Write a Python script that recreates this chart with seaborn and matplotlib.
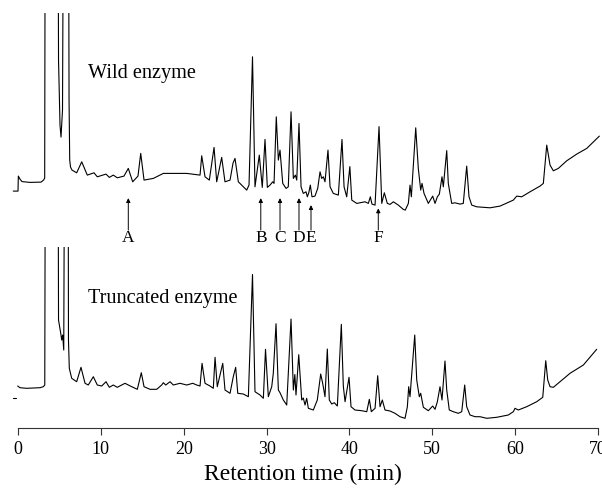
import numpy as np
import pandas as pd
import matplotlib
matplotlib.use("Agg")
import matplotlib.pyplot as plt
import seaborn as sns

# retention time (min) and detector signal (a.u.)
wild_t = [-0.57, 0.0, 0.04, 0.24, 0.48, 1.45, 2.78, 3.08, 3.22, 3.30, 4.80, 4.89, 5.07, 5.19, 5.37,
          5.53, 6.07, 6.16, 6.24, 6.34, 6.52, 7.08, 7.69, 8.36, 9.17, 9.57, 10.62, 11.02, 11.50,
          11.98, 12.79, 13.31, 13.84, 14.48, 14.81, 15.21, 16.33, 17.14, 17.54, 20.36, 21.97,
          22.17, 22.57, 23.09, 23.66, 23.98, 24.58, 24.98, 25.59, 25.95, 26.19, 26.59, 27.60,
          27.88, 28.30, 28.60, 29.12, 29.48, 29.81, 30.09, 30.41, 30.74, 30.90, 31.17, 31.42,
          31.62, 31.95, 32.35, 32.62, 32.95, 33.23, 33.47, 33.64, 33.91, 34.16, 34.43, 34.76,
          34.92, 35.09, 35.28, 35.48, 35.84, 36.17, 36.45, 36.65, 36.85, 37.05, 37.41, 37.66,
          38.05, 38.66, 39.10, 39.35, 39.67, 40.05, 40.28, 40.88, 41.88, 42.28, 42.52, 42.72,
          43.09, 43.57, 43.90, 44.21, 44.57, 44.90, 45.30, 45.90, 46.50, 46.74, 47.11, 47.31,
          47.47, 48.00, 48.31, 48.60, 48.76, 49.00, 49.52, 50.05, 50.33, 50.61, 50.85, 51.17,
          51.33, 51.74, 51.93, 52.34, 52.74, 53.35, 53.74, 54.15, 54.43, 54.76, 55.36, 56.97,
          58.17, 59.78, 60.19, 60.79, 61.79, 63.00, 63.40, 63.81, 64.21, 64.61, 65.21, 66.22,
          67.43, 68.64, 70.16]
wild_s = [0, 0, 15, 12, 9.5, 8.7, 9, 11, 13, 400, 400, 131, 66, 54, 81,
          400, 400, 91, 31, 24, 21, 18.3, 29.3, 16, 18.3, 14.3, 17, 13.7, 16,
          13.3, 15, 22.7, 9.3, 15, 37.7, 11, 12.7, 16, 17.7, 17.7, 16,
          35.3, 14.3, 11, 43.7, 9.3, 33.7, 9.3, 11, 28, 32.7, 9.3, 1,
          6, 134.3, 4.3, 36, 3.7, 51.7, 3.7, 6, 9.3, 7.7, 74.3, 31,
          41, 7.7, 2.7, 4.3, 79.3, 12.7, 16, 11, 67.7, 4.3, -2.3, -0.7,
          -5.7, -1.7, 6, -5.7, -5, 2.7, 19.3, 12.7, 14.3, 9.3, 41, 4.3,
          -2.3, -4, 51.7, 4.3, -5.7, 24.5, -9, -12.3, -10.7, -12.3, -5.7, -13,
          -14, 64.5, -12.3, -1.7, -12.3, -13.3, -10.7, -14, -18.3, -19, -12.3, 6,
          -5.7, 63.3, 22.7, 1, 7.7, -2.3, -12.3, -5, -12.3, -5.7, -3, 14.3,
          4.3, 40.5, 7.7, -12.3, -11.7, -13, -12.3, 25, -5.7, -14, -15.7, -16.7,
          -15, -9, -5, -5.7, -0.7, 5, 7.7, 46, 26, 20.3, 22.7, 30.3,
          37, 42.7, 55]

trunc_t = [-0.04, 0.24, 1.05, 2.66, 3.05, 3.23, 3.33, 4.80, 4.89, 5.19, 5.27, 5.39, 5.52,
           5.67, 6.03, 6.09, 6.19, 6.48, 7.08, 7.60, 8.09, 8.48, 9.09, 9.57, 10.10, 10.62,
           11.02, 11.50, 11.98, 12.91, 13.72, 14.40, 14.88, 15.21, 15.93, 16.74, 17.34, 17.54,
           17.83, 18.35, 18.74, 19.55, 20.36, 21.09, 21.57, 21.97, 22.21, 22.57, 23.17, 23.57,
           23.78, 24.05, 24.71, 24.98, 25.59, 25.98, 26.27, 26.52, 27.19, 27.80, 28.30, 28.60,
           29.21, 29.61, 29.87, 30.21, 30.62, 30.81, 31.14, 31.42, 31.62, 32.02, 32.43, 32.95,
           33.23, 33.41, 33.55, 33.88, 34.24, 34.43, 34.64, 34.84, 35.04, 35.64, 36.12, 36.53,
           36.77, 37.05, 37.33, 37.57, 37.86, 38.17, 38.54, 39.02, 39.26, 39.47, 39.95, 40.19,
           40.67, 41.48, 42.09, 42.40, 42.64, 43.09, 43.41, 43.69, 43.97, 44.29, 44.90, 45.50,
           46.10, 46.71, 46.99, 47.15, 47.31, 47.88, 48.12, 48.43, 48.60, 48.92, 49.52, 50.05,
           50.33, 50.61, 50.93, 51.17, 51.53, 51.74, 52.05, 52.54, 53.14, 53.55, 53.91, 54.15,
           54.55, 55.16, 55.76, 56.57, 57.77, 59.17, 59.78, 59.98, 60.38, 61.39, 62.60, 63.33,
           63.69, 63.93, 64.21, 64.61, 65.41, 66.62, 68.23, 69.84]
trunc_s = [12, 10.3, 9.7, 10.3, 11.3, 13, 400, 400, 78, 63, 58, 63, 48,
           400, 400, 58, 29.7, 19.7, 16.3, 30.7, 14.7, 13, 21.3, 13, 12, 16.3,
           10.7, 13, 10.7, 14.7, 11.3, 8.7, 25.3, 11.3, 8.7, 8.7, 13, 15.3,
           13, 16.3, 13, 14.7, 13, 14.7, 13, 12, 34.7, 14.7, 12, 9.7,
           40.7, 11.3, 34.7, 8, 4.7, 21.3, 30.7, 4.7, 4, 1.3, 123.5, 6.3,
           3, -0.3, 48.7, 1.3, 11.3, 24.7, 74.3, 8, 5.3, -2, -7, 79,
           8, 23.5, 3, 43.3, -2, 0, -7, -0.3, -10.3, -12, -2, 24,
           14.7, 1.3, 49, -2, -6, -4.7, -8, 73.7, 12, -3.7, 20.7, -8.7,
           -12, -12.7, -13.7, -1.3, -13.7, -10.3, 22.3, -8.7, -2, -12, -13, -15.3,
           -18.7, -20.3, -8.7, 11.3, 1.3, 63, 18, 1.3, 4.7, -9.3, -12.7, -8,
           -11.3, -3.7, 11.3, -2, 37, 8, -12, -13.7, -15.3, -13.7, 13, -8.7,
           -17, -18.7, -18.7, -20.3, -19.3, -17, -13.7, -10.3, -12, -8.7, -3.7, 0.7,
           37.3, 18, 11.3, 10.7, 16.3, 24.7, 33, 48.7]

# small injection mark left of the lower trace
mark_t = [-0.6, -0.24]
mark_s = [0, 0]

peak_labels = ["A", "B", "C", "D", "E", "F"]
peak_t = [13.31, 29.3, 31.62, 33.91, 35.36, 43.48]
arrow_tip_s = [-7, -7, -7, -7, -14, -17.3]

wild = pd.DataFrame({"t": wild_t, "s": wild_s})
trunc = pd.DataFrame({"t": trunc_t, "s": trunc_s})

sns.set_theme(style="white")
plt.rcParams["font.family"] = ["Liberation Serif", "DejaVu Serif"]
plt.rcParams["text.color"] = "black"
plt.rcParams["axes.labelcolor"] = "black"
plt.rcParams["xtick.color"] = "black"

fig = plt.figure(figsize=(6.02, 4.91), dpi=100)
ax_top = fig.add_axes([0.0189, 0.511, 0.98, 0.4623])
ax_bot = fig.add_axes([0.0189, 0.1283, 0.98, 0.3686], sharex=ax_top)

sns.lineplot(data=wild, x="t", y="s", ax=ax_top, sort=False, estimator=None,
             color="black", lw=0.8)
sns.lineplot(data=trunc, x="t", y="s", ax=ax_bot, sort=False, estimator=None,
             color="black", lw=0.8)
ax_bot.plot(mark_t, mark_s, color="black", lw=0.8)

ax_top.set_xlim(-0.8, 70.4)
ax_top.set_ylim(-49, 178)
ax_bot.set_ylim(-30, 151)

for ax in (ax_top, ax_bot):
    ax.set_ylabel("")
    ax.set_yticks([])
    ax.patch.set_alpha(0)
    for side in ("top", "right", "left"):
        ax.spines[side].set_visible(False)

ax_top.spines["bottom"].set_visible(False)
ax_top.tick_params(axis="x", bottom=False, labelbottom=False)
ax_top.set_xlabel("")

ax_bot.spines["bottom"].set_bounds(0, 70)
ax_bot.spines["bottom"].set_color("#333333")
ax_bot.spines["bottom"].set_linewidth(0.8)
ax_bot.set_xticks(np.arange(0, 71, 10))
ax_bot.tick_params(axis="x", bottom=True, direction="out", length=5, width=0.8,
                   color="#333333", labelsize=13, labelcolor="black", pad=4)
ax_bot.set_xlabel("Retention time (min)", fontsize=17, labelpad=4)
ax_bot.xaxis.set_label_coords(0.495, -0.2)
ax_bot.xaxis.label.set_va("top")

ax_top.text(8.45, 113.3, "Wild enzyme", fontsize=14.6, va="baseline", ha="left")
ax_bot.text(8.45, 95.3, "Truncated enzyme", fontsize=14.6, va="baseline", ha="left")

for lab, t, tip in zip(peak_labels, peak_t, arrow_tip_s):
    ax_top.annotate("", xy=(t, tip), xytext=(t, -39), annotation_clip=False,
                    arrowprops=dict(arrowstyle="-|>", lw=0.7, color="black",
                                    mutation_scale=6, shrinkA=0, shrinkB=0))
    ax_top.text(t, -47, lab, fontsize=12.5, ha="center", va="center", clip_on=False)

fig.savefig("out.png", dpi=100)
